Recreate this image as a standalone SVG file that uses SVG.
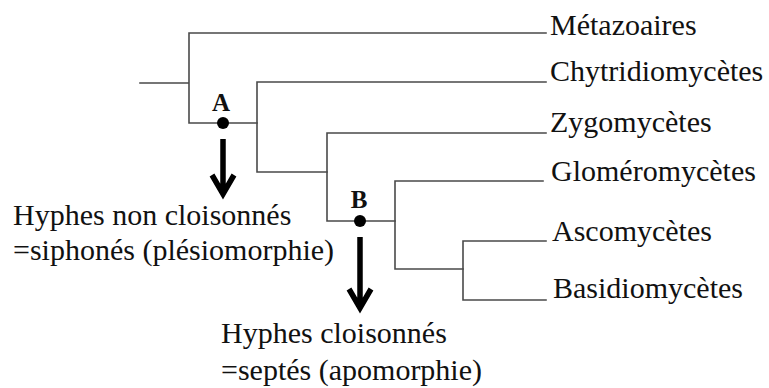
<svg xmlns="http://www.w3.org/2000/svg" width="769" height="388" viewBox="0 0 769 388">
  <style>
    .br { fill: none; stroke: #4a4a4a; stroke-width: 1.6; stroke-linecap: square; }
    .lbl { font-family: "Liberation Serif", "Times New Roman", serif; font-size: 30px; fill: #111; }
    .node { font-family: "Liberation Serif", "Times New Roman", serif; font-size: 25px; font-weight: bold; fill: #111; text-anchor: middle; }
    .arr { fill: none; stroke: #000; stroke-width: 5.5; }
    .dot { fill: #000; }
  </style>
  <rect width="769" height="388" fill="#fff"/>

  <!-- tree branches -->
  <g id="connectors">
    <path class="br" d="M140 83 H189 M189 33 V123 M189 33 H546 M189 123 H257"/>
    <path class="br" d="M257 82 V172 M257 82 H546 M257 172 H327"/>
    <path class="br" d="M327 133 V221 M327 133 H546 M327 221 H395"/>
    <path class="br" d="M395 181 V269 M395 181 H543 M395 269 H463"/>
    <path class="br" d="M463 241 V300 M463 241 H546 M463 300 H546"/>
  </g>

  <!-- taxa -->
  <g id="metazoaires"><text class="lbl" x="550" y="35">Métazoaires</text></g>
  <g id="chytridiomycetes"><text class="lbl" x="550" y="81">Chytridiomycètes</text></g>
  <g id="zygomycetes"><text class="lbl" x="550" y="132">Zygomycètes</text></g>
  <g id="glomeromycetes"><text class="lbl" x="551" y="181">Gloméromycètes</text></g>
  <g id="ascomycetes"><text class="lbl" x="552" y="241">Ascomycètes</text></g>
  <g id="basidiomycetes"><text class="lbl" x="553" y="298">Basidiomycètes</text></g>

  <!-- node A: non-septate hyphae -->
  <g id="node-a">
    <text class="node" x="221" y="111">A</text>
    <circle class="dot" cx="223" cy="123" r="6"/>
    <path class="arr" d="M223 139 V193 M212 175 L223 194 L234 175"/>
    <text class="lbl" x="13" y="225">Hyphes non cloisonnés</text>
    <text class="lbl" x="13" y="260">=siphonés (plésiomorphie)</text>
  </g>

  <!-- node B: septate hyphae -->
  <g id="node-b">
    <text class="node" x="359" y="208">B</text>
    <circle class="dot" cx="360" cy="221" r="6"/>
    <path class="arr" d="M360 237 V307 M349 289 L360 308 L371 289"/>
    <text class="lbl" x="221" y="343">Hyphes cloisonnés</text>
    <text class="lbl" x="221" y="380">=septés (apomorphie)</text>
  </g>
</svg>
